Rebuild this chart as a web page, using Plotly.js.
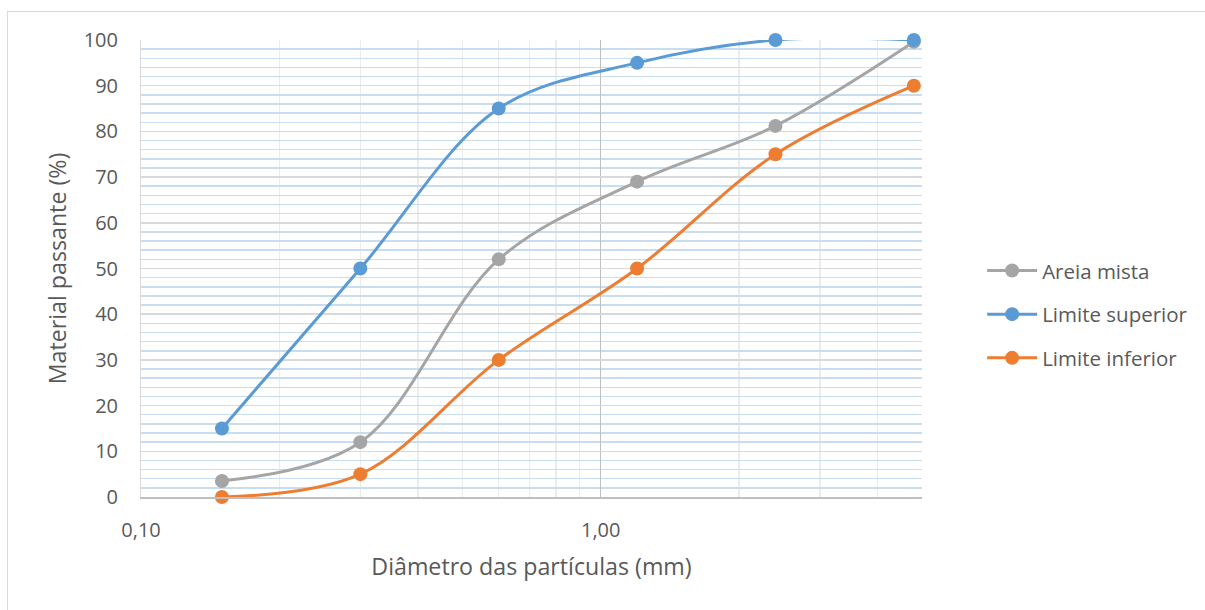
<!DOCTYPE html>
<html>
<head>
<meta charset="utf-8">
<script src="https://cdn.plot.ly/plotly-3.0.1.min.js"></script>
<style>
  html, body { margin: 0; padding: 0; background: #ffffff; }
  #wrap { position: relative; width: 1205px; height: 610px; overflow: hidden; }
  #frame { position: absolute; left: 7px; top: 11px; width: 1230px; height: 640px; border: 1px solid #d9d9d9; box-sizing: border-box; pointer-events: none; }
  #chart { position: absolute; left: 0; top: 0; width: 1205px; height: 610px; }
</style>
</head>
<body>
<div id="wrap">
  <div id="chart"></div>
  <div id="frame"></div>
</div>
<script>
// Sieve sizes (mm)
const diametro = [0.15, 0.3, 0.6, 1.2, 2.4, 4.8];
// Percent passing
const areiaMista = [3.5, 12, 52, 69, 81.2, 99.6];
const limiteSuperior = [15, 50, 85, 95, 100, 100];
const limiteInferior = [0, 5, 30, 50, 75, 90];

const seriesNames = ['Areia mista', 'Limite superior', 'Limite inferior'];
const seriesColors = ['#a5a5a5', '#5b9bd5', '#ed7d31'];

const xTickVals = [0.1, 1];
const xTickText = ['0,10', '1,00'];
const xMinorVals = [0.2, 0.3, 0.4, 0.5, 0.6, 0.7, 0.8, 0.9, 2, 3, 4, 5];

const font = 'Open Sans, Noto Sans, sans-serif';
const txt = '#595959';

const seriesData = [areiaMista, limiteSuperior, limiteInferior];
const traces = seriesData.map((ys, i) => ({
  x: diametro,
  y: ys,
  name: seriesNames[i],
  type: 'scatter',
  mode: 'lines+markers',
  legendgroup: 'g' + i,
  line: { color: seriesColors[i], width: 3, shape: 'spline', smoothing: 1 },
  marker: { color: seriesColors[i], size: 14 },
  cliponaxis: false
}));

const layout = {
  width: 1205,
  height: 610,
  paper_bgcolor: 'rgba(0,0,0,0)',
  plot_bgcolor: '#ffffff',
  margin: { l: 141, r: 283, t: 40, b: 113 },
  font: { family: font, color: txt, size: 20 },
  showlegend: true,
  legend: {
    x: 1.077, y: 0.40, xanchor: 'left', yanchor: 'middle',
    font: { family: font, size: 20.5, color: txt },
    traceorder: 'grouped',
    tracegroupgap: 14,
    itemwidth: 50,
    bgcolor: 'rgba(0,0,0,0)'
  },
  xaxis: {
    type: 'log',
    range: [-1, Math.log10(5)],
    tickmode: 'array',
    tickvals: xTickVals,
    ticktext: xTickText,
    ticks: 'outside',
    ticklen: 14,
    tickcolor: 'rgba(0,0,0,0)',
    tickfont: { family: font, size: 20, color: txt },
    showgrid: true,
    gridcolor: '#bfbfbf',
    gridwidth: 1,
    showline: true,
    linecolor: '#bfbfbf',
    linewidth: 1.5,
    zeroline: false,
    minor: {
      tickmode: 'array',
      tickvals: xMinorVals,
      showgrid: true,
      gridcolor: '#ececec',
      gridwidth: 1.5,
      ticks: ''
    },
    title: { text: 'Diâmetro das partículas (mm)', font: { family: font, size: 23.2, color: txt }, standoff: 17 }
  },
  yaxis: {
    range: [0, 100],
    tickmode: 'linear',
    tick0: 0,
    dtick: 10,
    ticks: 'outside',
    ticklen: 18,
    tickcolor: 'rgba(0,0,0,0)',
    tickfont: { family: font, size: 20, color: txt },
    showgrid: true,
    gridcolor: '#d9d9d9',
    gridwidth: 1.5,
    showline: true,
    linecolor: '#d9d9d9',
    linewidth: 1,
    zeroline: false,
    minor: {
      dtick: 2,
      showgrid: true,
      gridcolor: '#c9ddf1',
      gridwidth: 1.5,
      ticks: ''
    },
    title: { text: 'Material passante (%)', font: { family: font, size: 23.2, color: txt }, standoff: 10 }
  }
};

Plotly.newPlot('chart', traces, layout, { displayModeBar: false, staticPlot: true });
</script>
</body>
</html>
